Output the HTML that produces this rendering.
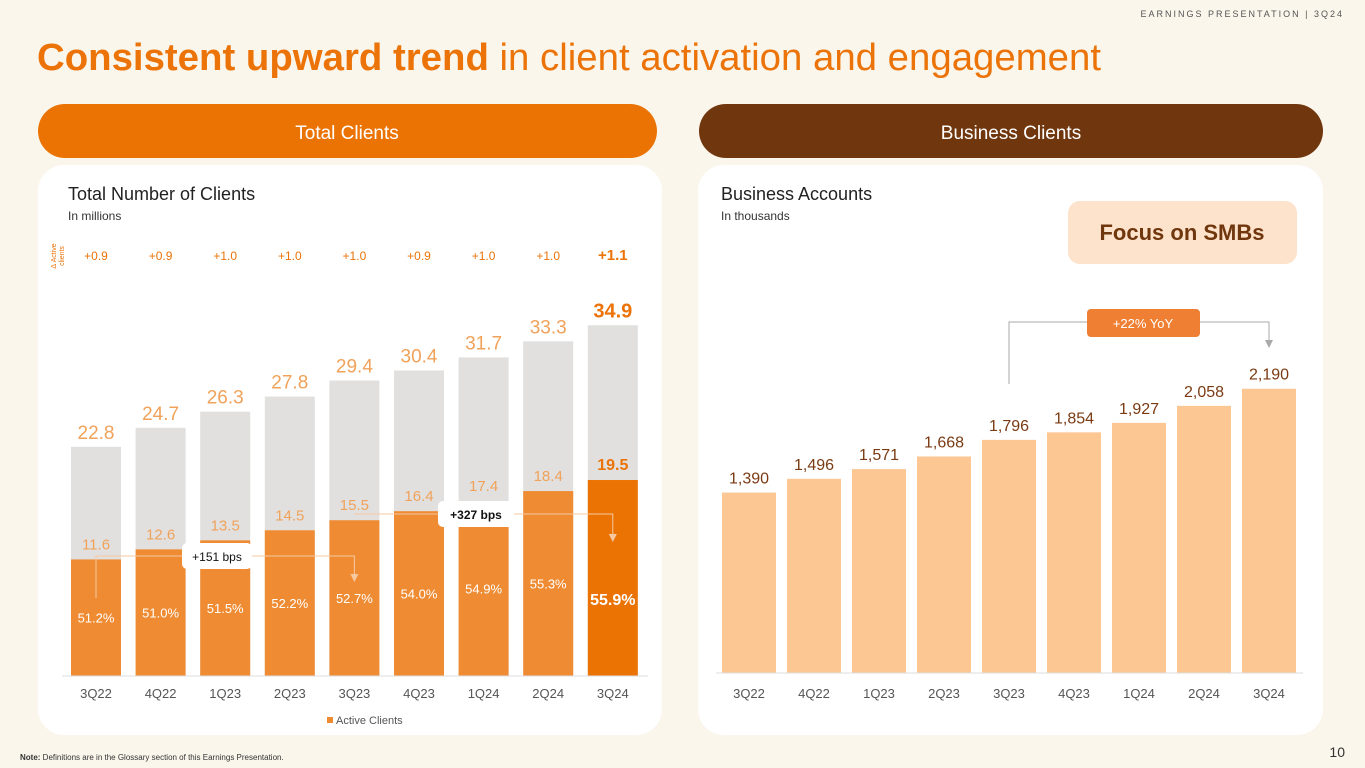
<!DOCTYPE html>
<html><head><meta charset="utf-8">
<style>
html,body{margin:0;padding:0;width:1365px;height:768px;overflow:hidden;background:#fbf6ec;font-family:"Liberation Sans",sans-serif}
svg{display:block}
</style></head>
<body>
<svg id="s" width="1365" height="768" viewBox="0 0 1365 768" xmlns="http://www.w3.org/2000/svg">
  <text x="1344" y="17" text-anchor="end" font-size="9" letter-spacing="2" fill="#555">EARNINGS PRESENTATION | 3Q24</text>
  <text x="37" y="70" font-size="38" fill="#eb7308" textLength="1064" lengthAdjust="spacingAndGlyphs"><tspan font-weight="bold">Consistent upward trend</tspan> in client activation and engagement</text>
  <rect x="38" y="104" width="619" height="54" rx="27" fill="#eb7304"/>
  <text x="347" y="139" text-anchor="middle" font-size="19" fill="#fff">Total Clients</text>
  <rect x="699" y="104" width="624" height="54" rx="27" fill="#70360d"/>
  <text x="1011" y="139" text-anchor="middle" font-size="19" fill="#fff">Business Clients</text>

  <rect x="38" y="165" width="624" height="570" rx="26" fill="#fff"/>
  <rect x="698" y="165" width="625" height="570" rx="26" fill="#fff"/>

  <text x="68" y="200" font-size="18" fill="#222">Total Number of Clients</text>
  <text x="68" y="220" font-size="12" fill="#333">In millions</text>
  <text transform="translate(56,256) rotate(-90)" text-anchor="middle" font-size="7" fill="#eb7308">Δ Active</text>
  <text transform="translate(64,256) rotate(-90)" text-anchor="middle" font-size="7" fill="#eb7308">clients</text>

  <text x="721" y="200" font-size="18" fill="#222">Business Accounts</text>
  <text x="721" y="220" font-size="12" fill="#333">In thousands</text>
  <rect x="1068" y="201" width="229" height="63" rx="12" fill="#fde3cb"/>
  <text x="1182" y="240" text-anchor="middle" font-size="22" font-weight="bold" fill="#70360d">Focus on SMBs</text>

  <g id="left"></g>
  <g id="right"></g>

  <text x="20" y="760" font-size="8" fill="#333"><tspan font-weight="bold">Note:</tspan> Definitions are in the Glossary section of this Earnings Presentation.</text>
  <text x="1345" y="757" text-anchor="end" font-size="14" fill="#333">10</text>
</svg>
<script>
const categories = ["3Q22","4Q22","1Q23","2Q23","3Q23","4Q23","1Q24","2Q24","3Q24"];
const totalClients = [22.8,24.7,26.3,27.8,29.4,30.4,31.7,33.3,34.9];
const activeClients = [11.6,12.6,13.5,14.5,15.5,16.4,17.4,18.4,19.5];
const activeRate = ["51.2%","51.0%","51.5%","52.2%","52.7%","54.0%","54.9%","55.3%","55.9%"];
const deltaActive = ["+0.9","+0.9","+1.0","+1.0","+1.0","+0.9","+1.0","+1.0","+1.1"];
const businessAccounts = [1390,1496,1571,1668,1796,1854,1927,2058,2190];

const NS = "http://www.w3.org/2000/svg";
function mk(parent, tag, attrs, text){
  const e = document.createElementNS(NS, tag);
  for (const k in attrs) e.setAttribute(k, attrs[k]);
  if (text !== undefined) e.textContent = text;
  parent.appendChild(e);
  return e;
}
const last = categories.length - 1;

const L = {x0:71, pitch:64.6, bw:50, base:676, k:10.05};
const lx = i => L.x0 + i*L.pitch;
const ly = v => L.base - v*L.k;
const gl = document.getElementById('left');
const ann = '#f6c9a0';
categories.forEach((c,i)=>{
  const x = lx(i), cx = x + L.bw/2, hl = i===last;
  let e = mk(gl,'rect',{x:x,y:ly(totalClients[i]),width:L.bw,height:L.base-ly(totalClients[i]),fill:'#e1e0df'});
   
  e = mk(gl,'rect',{x:x,y:ly(activeClients[i]),width:L.bw,height:L.base-ly(activeClients[i]),fill:hl?'#eb7304':'#ef8c33'});
   
  e = mk(gl,'text',{x:cx,y:ly(totalClients[i])-8,'text-anchor':'middle','font-size':hl?20:19,'font-weight':hl?'bold':'normal',fill:hl?'#eb7308':'#f0a25a'},totalClients[i].toFixed(1));
   
  e = mk(gl,'text',{x:cx,y:ly(activeClients[i])-10,'text-anchor':'middle','font-size':hl?16:15,'font-weight':hl?'bold':'normal',fill:hl?'#eb7308':'#f0a25a'},activeClients[i].toFixed(1));
   
  const mid = (ly(activeClients[i]) + L.base)/2 + 5 + (hl?22:0);
  e = mk(gl,'text',{x:cx,y:mid,'text-anchor':'middle','font-size':hl?16:13,'font-weight':hl?'bold':'normal',fill:'#fff'},activeRate[i]);
   
  e = mk(gl,'text',{x:cx,y:260,'text-anchor':'middle','font-size':hl?15:12,'font-weight':hl?'bold':'normal',fill:'#eb7308'},deltaActive[i]);
   
  e = mk(gl,'text',{x:cx,y:698,'text-anchor':'middle','font-size':13,fill:'#555'},c);
   
});
let ax = mk(gl,'line',{x1:62,x2:648,y1:L.base,y2:L.base,stroke:'#ddd'});
 
function annot(from,to,yl,startDrop,drop,label,bx,bw,bold,name){
  const fx = lx(from)+L.bw/2, tx = lx(to)+L.bw/2;
  let e = mk(gl,'path',{d:`M${fx} ${yl+startDrop} V${yl} H${tx} V${yl+drop}`,fill:'none',stroke:ann,'stroke-width':1});
   
  e = mk(gl,'path',{d:`M${tx-4} ${yl+drop} L${tx+4} ${yl+drop} L${tx} ${yl+drop+8}Z`,fill:ann});
   
  e = mk(gl,'rect',{x:bx,y:yl-13,width:bw,height:26,rx:5,fill:'#fff'});
   
  e = mk(gl,'text',{x:bx+bw/2,y:yl+5,'text-anchor':'middle','font-size':12,'font-weight':bold?'bold':'normal',fill:'#111'},label);
   
}
annot(0,4,556,42,18,'+151 bps',182,70,false,'bps-151');
annot(4,8,514,0,20,'+327 bps',438,76,true,'bps-327');
let lg = mk(gl,'rect',{x:327,y:717,width:6,height:6,fill:'#ef8c33'});
 
lg = mk(gl,'text',{x:336,y:724,'font-size':11,fill:'#555'},'Active Clients');
 

const R = {x0:722, pitch:65, bw:54, base:673, k:0.1298};
const rx = i => R.x0 + i*R.pitch;
const ry = v => R.base - v*R.k;
const gr = document.getElementById('right');
categories.forEach((c,i)=>{
  const x = rx(i), cx = x+R.bw/2;
  let e = mk(gr,'rect',{x:x,y:ry(businessAccounts[i]),width:R.bw,height:R.base-ry(businessAccounts[i]),fill:'#fdc793'});
   
  e = mk(gr,'text',{x:cx,y:ry(businessAccounts[i])-9,'text-anchor':'middle','font-size':16,fill:'#7a3a12'},businessAccounts[i].toLocaleString('en-US'));
   
  e = mk(gr,'text',{x:cx,y:698,'text-anchor':'middle','font-size':13,fill:'#555'},c);
   
});
ax = mk(gr,'line',{x1:716,x2:1303,y1:R.base,y2:R.base,stroke:'#ddd'});
 
const yx1 = rx(4)+R.bw/2, yx2 = rx(last)+R.bw/2;
let y = mk(gr,'path',{d:`M${yx1} 384 V322 H${yx2} V340`,fill:'none',stroke:'#aaa','stroke-width':1});
 
y = mk(gr,'path',{d:`M${yx2-4} 340 L${yx2+4} 340 L${yx2} 348Z`,fill:'#aaa'});
 
y = mk(gr,'rect',{x:1087,y:309,width:113,height:28,rx:4,fill:'#ef8033'});
 
y = mk(gr,'text',{x:1143,y:328,'text-anchor':'middle','font-size':13,fill:'#fff'},'+22% YoY');
 
</script>
</body></html>
